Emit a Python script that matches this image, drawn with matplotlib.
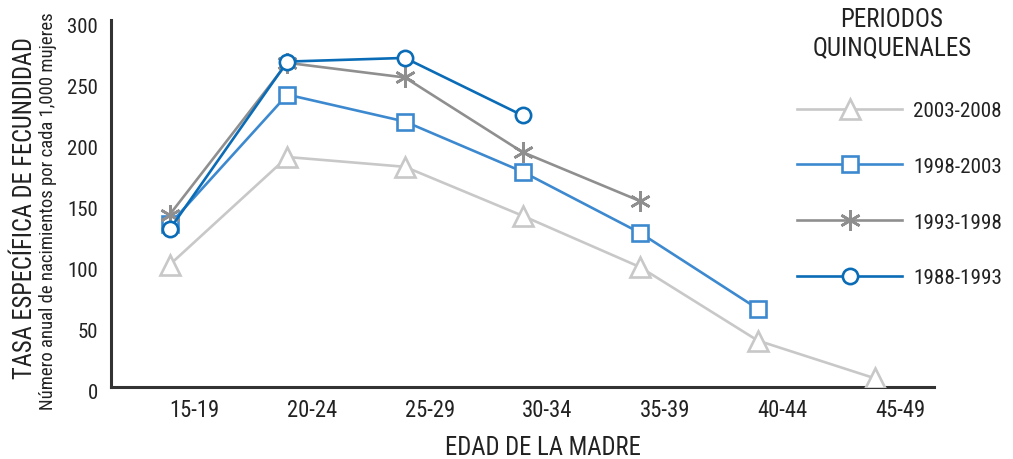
import matplotlib
matplotlib.use("Agg")
import matplotlib.pyplot as plt
from matplotlib import font_manager as fm
from matplotlib.lines import Line2D
from matplotlib.transforms import ScaledTranslation

# ---- data ----
categories = ["15-19", "20-24", "25-29", "30-34", "35-39", "40-44", "45-49"]
p2003_2008 = [100, 188, 180, 140, 98, 38, 7]
p1998_2003 = [133, 239, 217, 176, 126, 64]
p1993_1998 = [141, 265, 253, 192, 152]
p1988_1993 = [129, 266, 269, 222]
series_labels = ["2003-2008", "1998-2003", "1993-1998", "1988-1993"]
yticks = [0, 50, 100, 150, 200, 250, 300]

available = {f.name for f in fm.fontManager.ttflist}
font = "DejaVu Sans"
for cand in ["Liberation Sans Narrow", "Roboto Condensed", "Open Sans Condensed", "Roboto", "Liberation Sans"]:
    if cand in available:
        font = cand
        break
plt.rcParams["font.family"] = [font, "DejaVu Sans"]

TXT = "#222222"
fig = plt.figure(figsize=(10.13, 4.60), dpi=100)
renderer = fig.canvas.get_renderer()


def size_for(s, target_px, base=20.0):
    t = fig.text(0, 0, s, fontsize=base)
    w = t.get_window_extent(renderer).width
    t.remove()
    return base * target_px / w


ax = fig.add_axes([111/1013, 1-388/460, (934-111)/1013, (388-21)/460])

x = list(range(len(categories)))
styles = [
    (p2003_2008, "#c8c8c8", "^", 14, dict(markerfacecolor="white")),
    (p1998_2003, "#3d89cf", "s", 12, dict(markerfacecolor="white")),
    (p1993_1998, "#8f8f8f", (6, 2, 0), 15, dict()),
    (p1988_1993, "#0a6cb6", "o", 11, dict(markerfacecolor="white")),
]
handles = []
for (vals, col, mk, ms, kw), lab in zip(styles, series_labels):
    ax.plot(x[:len(vals)], vals, color=col, lw=1.9, marker=mk, ms=ms,
            markeredgewidth=1.9, markeredgecolor=col, **kw, zorder=3)
    handles.append(Line2D([], [], color=col, lw=1.9, marker=mk, ms=ms,
                          markeredgewidth=1.9, markeredgecolor=col, **kw))

ax.set_xlim(-0.5, 6.5)
ax.set_ylim(0, 300)
ax.set_xticks(x)
ax.set_xticklabels(categories)
ax.set_yticks(yticks)

fs_xt = size_for("15-19", 50)
fs_yt = size_for("300", 31)
ax.tick_params(axis="x", length=0, labelsize=fs_xt, colors=TXT, pad=8)
ax.tick_params(axis="y", length=0, labelsize=fs_yt, colors=TXT, pad=9.5)
dx = ScaledTranslation(25/100, 0, fig.dpi_scale_trans)
for lab in ax.get_xticklabels():
    lab.set_transform(lab.get_transform() + dx)
dy = ScaledTranslation(0, -4/100, fig.dpi_scale_trans)
for lab in ax.get_yticklabels():
    lab.set_transform(lab.get_transform() + dy)

for s in ["top", "right"]:
    ax.spines[s].set_visible(False)
for s in ["left", "bottom"]:
    ax.spines[s].set_color("#333333")
    ax.spines[s].set_linewidth(2.2)

xl = "EDAD DE LA MADRE"
fig.text(543/1013, 1-448/460, xl, ha="center", va="center",
         fontsize=size_for(xl, 197), color=TXT)
yl = "TASA ESPECÍFICA DE FECUNDIDAD"
fig.text(25/1013, 1-208/460, yl, rotation=90, ha="center", va="center",
         fontsize=size_for(yl, 343), color=TXT)
sl = "Número anual de nacimientos por cada 1,000 mujeres"
fig.text(48/1013, 1-211/460, sl, rotation=90, ha="center", va="center",
         fontsize=size_for(sl, 398), color=TXT)

fs_lt = size_for("QUINQUENALES", 159)
fig.text(892/1013, 1-20/460, "PERIODOS", ha="center", va="center",
         fontsize=fs_lt, color=TXT)
fig.text(892/1013, 1-48/460, "QUINQUENALES", ha="center", va="center",
         fontsize=fs_lt, color=TXT)

fs_leg = size_for("2003-2008", 89)
fs_leg_px = fs_leg * 100 / 72
leg = fig.legend(handles, series_labels, loc="upper left",
                 bbox_to_anchor=(797/1013, 1-102/460), frameon=False,
                 borderpad=0, borderaxespad=0,
                 handlelength=105/fs_leg_px, handletextpad=11/fs_leg_px,
                 labelspacing=1.74, fontsize=fs_leg)
for t in leg.get_texts():
    t.set_color(TXT)

fig.savefig("out.png", dpi=100)
